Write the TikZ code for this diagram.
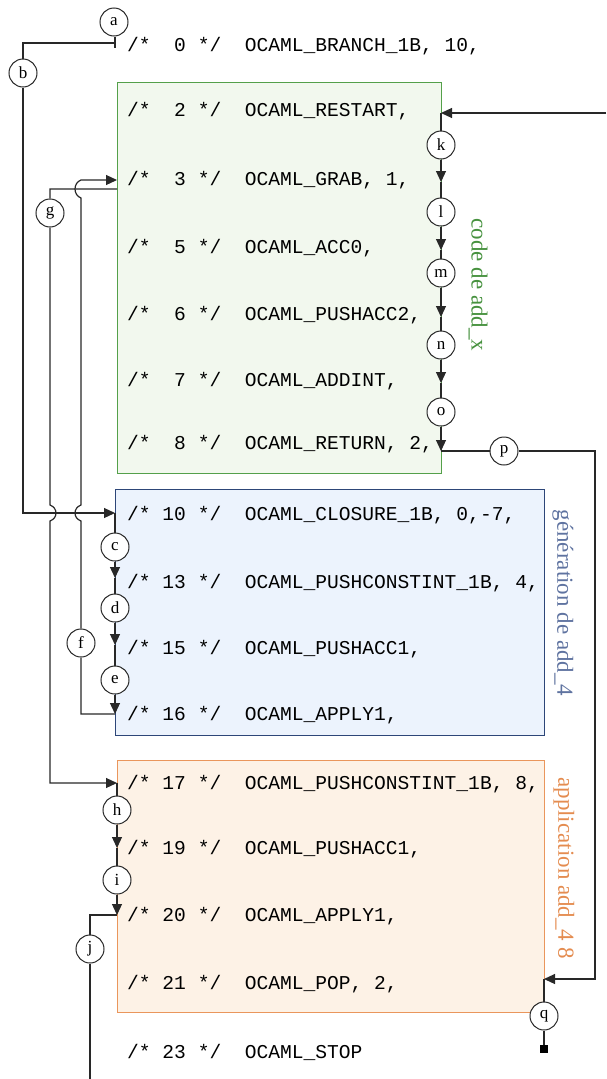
\documentclass[tikz,border=0pt]{standalone}
\usepackage{fontspec}
\usetikzlibrary{arrows.meta}
\newfontfamily\codefont{Liberation Mono}
\newfontfamily\lblfont{Liberation Serif}
\definecolor{greenfill}{RGB}{242,248,238}
\definecolor{greenline}{RGB}{84,160,74}
\definecolor{greentext}{RGB}{70,145,62}
\definecolor{bluefill}{RGB}{236,243,253}
\definecolor{blueline}{RGB}{45,70,120}
\definecolor{bluetext}{RGB}{95,115,160}
\definecolor{orangefill}{RGB}{253,242,230}
\definecolor{orangeline}{RGB}{234,150,92}
\definecolor{orangetext}{RGB}{228,140,80}
\definecolor{wire}{RGB}{40,40,40}
\frenchspacing
\begin{document}
\begin{tikzpicture}[x=1pt,y=-1pt,
  code/.style={font=\codefont\fontsize{19.6}{23}\selectfont, anchor=mid west, inner sep=0pt},
  lbl/.style={circle, draw=wire, line width=1pt, fill=white, minimum size=28pt, inner sep=0pt,
    font=\lblfont\fontsize{17}{17}\selectfont},
  side/.style={rotate=-90, inner sep=0pt, font=\lblfont\fontsize{23}{23}\selectfont},
  conn/.style={draw=wire, line width=1.2pt},
  arr/.style={conn, -{Triangle[length=11pt,width=10pt]}},
  block/.style={line width=1pt}]
\useasboundingbox (0,0) rectangle (606,1079);

% code blocks
\filldraw[block, fill=greenfill, draw=greenline] (117,82) rectangle (441,473);
\filldraw[block, fill=bluefill, draw=blueline] (115,489) rectangle (544,735);
\filldraw[block, fill=orangefill, draw=orangeline] (117,760) rectangle (544,1012);

\node[side, text=greentext] (sgreen) at (478,285) {code de add\_x};
\node[side, text=bluetext] (sblue) at (563,603) {génération de add\_4};
\node[side, text=orangetext] (sorange) at (564,868) {application add\_4 8};

% bytecode listing
\node[code] (l0) at (127,49) {/*~~0~*/~~OCAML\_BRANCH\_1B,~10,};
\node[code] (l2) at (127,114) {/*~~2~*/~~OCAML\_RESTART,};
\node[code] (l3) at (127,183) {/*~~3~*/~~OCAML\_GRAB,~1,};
\node[code] (l5) at (127,251) {/*~~5~*/~~OCAML\_ACC0,};
\node[code] (l6) at (127,318) {/*~~6~*/~~OCAML\_PUSHACC2,};
\node[code] (l7) at (127,384) {/*~~7~*/~~OCAML\_ADDINT,};
\node[code] (l8) at (127,447) {/*~~8~*/~~OCAML\_RETURN,~2,};
\node[code] (l10) at (127,518) {/*~10~*/~~OCAML\_CLOSURE\_1B,~0,-7,};
\node[code] (l13) at (127,586) {/*~13~*/~~OCAML\_PUSHCONSTINT\_1B,~4,};
\node[code] (l15) at (127,652) {/*~15~*/~~OCAML\_PUSHACC1,};
\node[code] (l16) at (127,718) {/*~16~*/~~OCAML\_APPLY1,};
\node[code] (l17) at (127,787) {/*~17~*/~~OCAML\_PUSHCONSTINT\_1B,~8,};
\node[code] (l19) at (127,852) {/*~19~*/~~OCAML\_PUSHACC1,};
\node[code] (l20) at (127,919) {/*~20~*/~~OCAML\_APPLY1,};
\node[code] (l21) at (127,987) {/*~21~*/~~OCAML\_POP,~2,};
\node[code] (l23) at (127,1056) {/*~23~*/~~OCAML\_STOP};

% instruction entry points
\coordinate (br0) at (115,43);
\coordinate (aTick) at (115,48);
\coordinate (restartR) at (441,113);
\coordinate (inEdge) at (606,113);
\coordinate (grabL) at (117,180);
\coordinate (grabL2) at (117,189);
\coordinate (grabR) at (441,182);
\coordinate (acc0R) at (441,250);
\coordinate (pacc2R) at (441,317);
\coordinate (addR) at (441,383);
\coordinate (retR) at (441,451);
\coordinate (clo10L) at (115,513);
\coordinate (pc13L) at (115,578);
\coordinate (pa15L) at (115,645);
\coordinate (ap16L) at (115,714);
\coordinate (pc17L) at (117,783);
\coordinate (pa19L) at (117,848);
\coordinate (ap20L) at (117,915);
\coordinate (pop21R) at (544,979);
% corners
\coordinate (bc1) at (23,43);
\coordinate (bc2) at (23,513);
\coordinate (fc1) at (81,714);
\coordinate (fc2) at (81,180);
\coordinate (gc1) at (50,189);
\coordinate (gc2) at (50,783);
\coordinate (pc1) at (595,451);
\coordinate (pc2) at (595,979);
\coordinate (jc1) at (90,915);
\coordinate (jEnd) at (90,1079);

% edge labels
\node[lbl] (a) at (114,22) {a};
\node[lbl] (b) at (23,73) {b};
\node[lbl] (c) at (115,547) {c};
\node[lbl] (d) at (115,608) {d};
\node[lbl] (e) at (115,680) {e};
\node[lbl] (f) at (81,643) {f};
\node[lbl] (g) at (50,213) {g};
\node[lbl] (h) at (117,810) {h};
\node[lbl] (i) at (117,880) {i};
\node[lbl] (j) at (90,949) {j};
\node[lbl] (k) at (441,145) {k};
\node[lbl] (l) at (441,212) {l};
\node[lbl] (m) at (441,273) {m};
\node[lbl] (n) at (441,345) {n};
\node[lbl] (o) at (441,412) {o};
\node[lbl] (p) at (504,451) {p};
\node[lbl] (q) at (544,1016) {q};
\node[fill=black, minimum size=8pt, inner sep=0pt] (stopsq) at (544,1049) {};

% control flow
\draw[conn] (a.south -| aTick) -- (aTick);
\draw[arr] (br0) -- (bc1) -- (b) -- (bc2) -- (clo10L);
\draw[arr] (inEdge) -- (restartR);
\draw[arr] (restartR) -- (k) -- (grabR);
\draw[arr] (grabR) -- (l) -- (acc0R);
\draw[arr] (acc0R) -- (m) -- (pacc2R);
\draw[arr] (pacc2R) -- (n) -- (addR);
\draw[arr] (addR) -- (o) -- (retR);
\draw[arr] (retR) -- (p) -- (pc1) -- (pc2) -- (pop21R);
\draw[conn] (pop21R) -- (q) -- (stopsq);
\draw[arr] (clo10L) -- (c) -- (pc13L);
\draw[arr] (pc13L) -- (d) -- (pa15L);
\draw[arr] (pa15L) -- (e) -- (ap16L);
\draw[arr] (ap16L) -- (fc1) -- (f) -- (81,521)
  .. controls (73,518) and (73,508) .. (81,505) -- (81,198)
  .. controls (73,195) and (73,183) .. (fc2) -- (grabL);
\draw[arr] (grabL2) -- (gc1) -- (g) -- (50,505)
  .. controls (58,508) and (58,518) .. (50,521) -- (gc2) -- (pc17L);
\draw[arr] (pc17L) -- (h) -- (pa19L);
\draw[arr] (pa19L) -- (i) -- (ap20L);
\draw[conn] (ap20L) -- (jc1) -- (j) -- (jEnd);
\end{tikzpicture}
\end{document}
